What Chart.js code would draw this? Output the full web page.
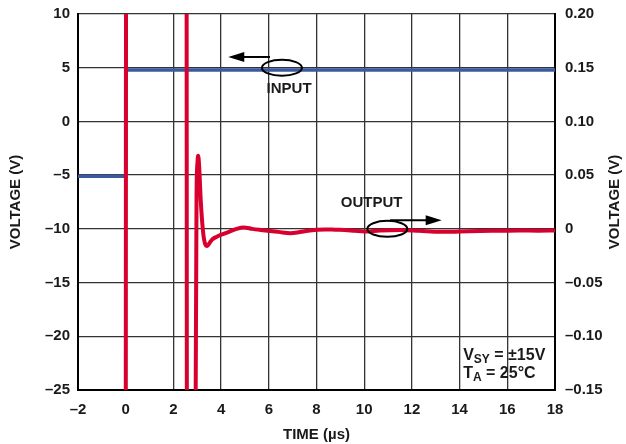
<!DOCTYPE html>
<html>
<head>
<meta charset="utf-8">
<script src="https://cdn.jsdelivr.net/npm/chart.js@4"></script>
<style>
  html, body { margin: 0; padding: 0; background: #fff; }
  #wrap { width: 626px; height: 444px; }
</style>
</head>
<body>
<div id="wrap"><canvas id="myChart" width="626" height="444"></canvas></div>
<script>
// time axis (µs)
var timeTicks = [-2, 0, 2, 4, 6, 8, 10, 12, 14, 16, 18];

// input step, left axis (V)
var inputTime = [-2, 0, 0, 18];
var inputVolts = [-5.1, -5.1, 4.78, 4.78];

// output, right axis (V) - spikes leave the plot area and are clipped
var outputTime = [0, 0.02, 2.55, 2.57, 2.9, 2.97, 3.01, 3.04, 3.08, 3.15, 3.25, 3.33, 3.42, 3.52, 3.62, 3.8, 4.0, 4.3, 4.65, 4.95, 5.3, 5.65, 6.05, 6.4, 6.9, 7.3, 7.73, 8.05, 8.36, 8.8, 9.2, 9.6, 10.03, 10.66, 11.5, 12.3, 13.2, 14.0, 14.86, 15.7, 16.5, 17.3, 18];
var outputVolts = [-0.3, 0.3, 0.3, -0.3, -0.3, 0.03, 0.062, 0.068, 0.058, 0.025, -0.004, -0.014, -0.016, -0.013, -0.01, -0.0075, -0.0055, -0.003, 0.0, 0.0013, 0.0, -0.001, -0.002, -0.0028, -0.004, -0.003, -0.0015, -0.0008, -0.0005, -0.0008, -0.001, -0.0018, -0.0025, -0.0015, -0.001, -0.0018, -0.0028, -0.0025, -0.002, -0.0018, -0.0015, -0.0017, -0.0015];

var FONT = 'Liberation Sans, Arial, sans-serif';
var INK = '#1a1a1a';

function dash(v) {
    return String(v).replace('-', '\u2013');
}

function xy(xs, ys) {
    return xs.map(function(x, i) { return { x: x, y: ys[i] }; });
}

function arrow(ctx, x1, y, x2) {
    var dir = x2 > x1 ? 1 : -1;
    ctx.beginPath();
    ctx.moveTo(x1, y);
    ctx.lineTo(x2 - dir * 12, y);
    ctx.stroke();
    ctx.beginPath();
    ctx.moveTo(x2, y);
    ctx.lineTo(x2 - dir * 16, y - 5);
    ctx.lineTo(x2 - dir * 16, y + 5);
    ctx.closePath();
    ctx.fill();
}

// notes, arrows and axis titles
var notes = {
    id: 'notes',
    afterDatasetsDraw: function(chart) {
        var ctx = chart.ctx;
        var sx = chart.scales.x, sy = chart.scales.y, sr = chart.scales.y1;
        var a = chart.chartArea;
        ctx.save();
        ctx.strokeStyle = '#000';
        ctx.fillStyle = '#000';
        ctx.lineWidth = 2;

        // INPUT marker
        ctx.beginPath();
        ctx.ellipse(sx.getPixelForValue(6.55), sy.getPixelForValue(5.0), 20, 8, 0, 0, Math.PI * 2);
        ctx.stroke();
        arrow(ctx, sx.getPixelForValue(6.05), sy.getPixelForValue(6.0), sx.getPixelForValue(4.3));

        // OUTPUT marker
        ctx.beginPath();
        ctx.ellipse(sx.getPixelForValue(10.97), sr.getPixelForValue(0), 20, 8, 0, 0, Math.PI * 2);
        ctx.stroke();
        arrow(ctx, sx.getPixelForValue(11.08), sr.getPixelForValue(0.008), sx.getPixelForValue(13.25));

        ctx.fillStyle = INK;
        ctx.font = 'bold 15px ' + FONT;
        ctx.textAlign = 'center';
        ctx.textBaseline = 'middle';
        ctx.fillText('INPUT', sx.getPixelForValue(6.85), sy.getPixelForValue(3.0));
        ctx.fillText('OUTPUT', sx.getPixelForValue(10.31), sr.getPixelForValue(0.024));

        // supply / temperature note
        ctx.textAlign = 'left';
        var x0 = sx.getPixelForValue(14.15);
        var y1 = 356, y2 = 374;
        ctx.font = 'bold 16px ' + FONT;
        ctx.fillText('V', x0, y1);
        var w = ctx.measureText('V').width;
        ctx.font = 'bold 12px ' + FONT;
        ctx.fillText('SY', x0 + w, y1 + 4);
        var w2 = ctx.measureText('SY').width;
        ctx.font = 'bold 16px ' + FONT;
        ctx.fillText(' = \u00b115V', x0 + w + w2, y1);
        ctx.fillText('T', x0, y2);
        w = ctx.measureText('T').width;
        ctx.font = 'bold 12px ' + FONT;
        ctx.fillText('A', x0 + w, y2 + 4);
        w2 = ctx.measureText('A').width;
        ctx.font = 'bold 16px ' + FONT;
        ctx.fillText(' = 25\u00b0C', x0 + w + w2, y2);

        // axis titles
        var midY = (a.top + a.bottom) / 2;
        ctx.font = 'bold 15px ' + FONT;
        ctx.textAlign = 'center';
        ctx.fillText('TIME (\u00b5s)', (a.left + a.right) / 2, 435);
        ctx.save();
        ctx.translate(16, midY);
        ctx.rotate(-Math.PI / 2);
        ctx.fillText('VOLTAGE (V)', 0, 0);
        ctx.restore();
        ctx.save();
        ctx.translate(615, midY);
        ctx.rotate(-Math.PI / 2);
        ctx.fillText('VOLTAGE (V)', 0, 0);
        ctx.restore();
        ctx.restore();
    }
};

// keep the plot box where the reference has it
function fixWidth(w) {
    return function(s) {
        s.width = w;
        s.paddingTop = 0;
        s.paddingBottom = 0;
    };
}

var ctx = document.getElementById('myChart').getContext('2d');
var myChart = new Chart(ctx, {
    type: 'line',
    data: {
        datasets: [{
            label: 'OUTPUT',
            data: xy(outputTime, outputVolts),
            yAxisID: 'y1',
            borderColor: '#d8002e',
            borderWidth: 4,
            pointRadius: 0,
            cubicInterpolationMode: 'monotone',
            clip: 0
        }, {
            label: 'INPUT',
            data: xy(inputTime, inputVolts),
            yAxisID: 'y',
            borderColor: '#3a5a9e',
            borderWidth: 3.5,
            pointRadius: 0,
            tension: 0,
            clip: 0
        }]
    },
    options: {
        responsive: false,
        animation: false,
        events: [],
        layout: { padding: { top: 14, left: 0, right: 0, bottom: 0 } },
        plugins: {
            legend: { display: false },
            tooltip: { enabled: false }
        },
        scales: {
            x: {
                type: 'linear',
                min: -2,
                max: 18,
                afterBuildTicks: function(s) {
                    s.ticks = timeTicks.map(function(v) { return { value: v }; });
                },
                afterFit: function(s) { s.height = 54; },
                border: { display: true, color: '#000', width: 2 },
                grid: { color: '#333', lineWidth: 1.3, drawTicks: false },
                ticks: {
                    padding: 11,
                    color: INK,
                    font: { family: FONT, size: 15, weight: 'bold' },
                    maxRotation: 0,
                    callback: function(v) { return dash(v); }
                }
            },
            y: {
                position: 'left',
                min: -25,
                max: 10,
                afterFit: fixWidth(78),
                border: { display: true, color: '#000', width: 2 },
                grid: { color: '#333', lineWidth: 1.3, drawTicks: false },
                ticks: {
                    stepSize: 5,
                    padding: 8,
                    color: INK,
                    font: { family: FONT, size: 15, weight: 'bold' },
                    callback: function(v) { return dash(v); }
                }
            },
            y1: {
                position: 'right',
                min: -0.15,
                max: 0.2,
                afterFit: fixWidth(71),
                border: { display: true, color: '#000', width: 2 },
                grid: { display: false, drawTicks: false },
                ticks: {
                    stepSize: 0.05,
                    padding: 10,
                    color: INK,
                    font: { family: FONT, size: 15, weight: 'bold' },
                    callback: function(v) {
                        var r = Math.round(v * 100) / 100;
                        return r === 0 ? '0' : dash(r.toFixed(2));
                    }
                }
            }
        }
    },
    plugins: [notes]
});
</script>
</body>
</html>
